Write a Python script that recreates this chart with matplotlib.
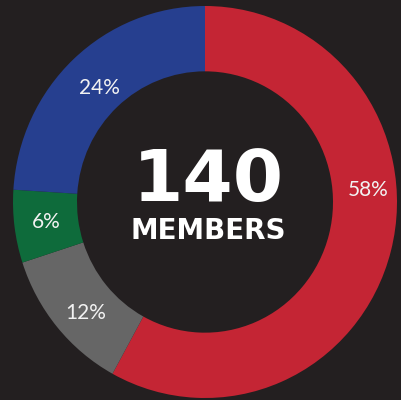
import matplotlib
matplotlib.use("Agg")
import matplotlib.pyplot as plt

labels = ["58%", "12%", "6%", "24%"]
values = [58, 12, 6, 24]
colors = ["#c42534", "#666666", "#0e6b3b", "#263f8f"]
center_number = "140"
center_word = "MEMBERS"

W, H = 402, 400
bg = "#231f20"
fig = plt.figure(figsize=(W / 100, H / 100), dpi=100, facecolor=bg)
ax = fig.add_axes([0, 0, 1, 1])
ax.set_facecolor(bg)

k = 196 / 192.0  # vertical stretch
cx, cy_px = 205, 202
R = 192
ring = 64
ax.pie(values, colors=colors, startangle=90, counterclock=False,
       radius=R, center=(cx, (H - cy_px) / k),
       wedgeprops=dict(width=ring, linewidth=0), frame=True)
ax.set_aspect("auto")
ax.set_xlim(0, W)
ax.set_ylim(0, H / k)
ax.axis("off")

label_pos = [(368, 190), (86, 313), (46, 222), (99, 88)]
for lab, (x, y) in zip(labels, label_pos):
    fig.text(x / W, 1 - y / H, lab, color="#f2f2f2", fontsize=15,
             family="Lato", fontweight="normal", ha="center", va="center")

fig.text(208 / W, 1 - 201 / H, center_number, color="white", fontsize=52,
         family="DejaVu Sans", fontweight="bold", ha="center", va="baseline")
fig.text(208 / W, 1 - 239 / H, center_word, color="white", fontsize=20,
         family="DejaVu Sans", fontweight="bold", ha="center", va="baseline")

fig.savefig("out.png", dpi=100, facecolor=bg)
